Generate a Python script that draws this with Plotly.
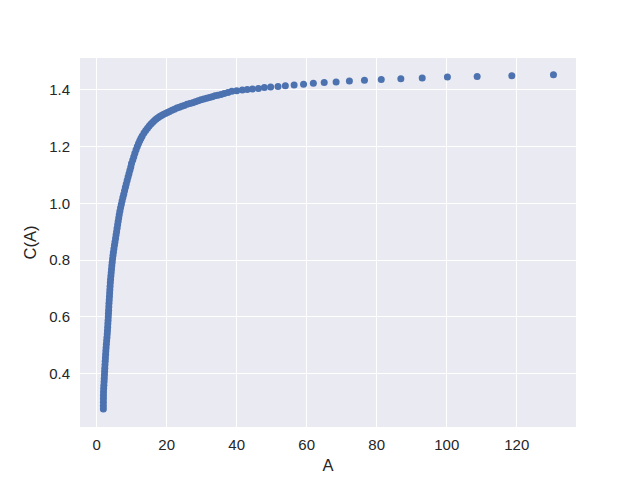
import plotly.graph_objects as go

# values (dense part read along the band, tail point by point)
a_vals = [
    1.90, 1.90, 1.91, 1.92, 1.93, 1.95, 1.99, 2.05, 2.11, 2.16,
    2.21, 2.26, 2.31, 2.37, 2.43, 2.49, 2.55, 2.61, 2.68, 2.76,
    2.84, 2.93, 3.01, 3.07, 3.13, 3.19, 3.25, 3.31, 3.36, 3.41,
    3.46, 3.51, 3.58, 3.64, 3.70, 3.76, 3.82, 3.89, 3.96, 4.05,
    4.14, 4.23, 4.32, 4.42, 4.53, 4.65, 4.78, 4.92, 5.07, 5.22,
    5.38, 5.53, 5.68, 5.83, 5.98, 6.13, 6.29, 6.44, 6.62, 6.82,
    7.03, 7.25, 7.48, 7.72, 7.96, 8.20, 8.44, 8.70, 8.96, 9.22,
    9.48, 9.74, 9.95, 10.3, 10.6, 10.9, 11.25,
    11.6, 11.95, 12.3, 12.65, 13.0, 13.5, 14.0, 14.5, 15.0, 15.5,
    16.0, 16.5, 17.0, 17.5, 18.0, 18.5, 19.0, 19.6, 20.2, 20.8,
    21.5, 22.2, 22.9, 23.6, 24.3, 25.0, 25.8, 26.6, 27.4, 28.2,
    29.0, 29.8, 30.6, 31.4, 32.2, 33.0, 33.8, 34.6, 35.5, 36.4,
    37.5,
    38.6, 40.0, 41.6, 43.0, 44.5, 46.2, 47.9, 49.7, 51.8, 53.9,
    56.4, 59.1, 61.9, 65.0, 68.4, 72.2, 76.5, 81.3, 86.9, 93.0,
    100.2, 108.7, 118.6, 130.5,
]
c_vals = [
    0.276, 0.288, 0.300, 0.312, 0.324, 0.336, 0.348, 0.360, 0.372, 0.384,
    0.396, 0.408, 0.420, 0.432, 0.444, 0.456, 0.468, 0.480, 0.492, 0.504,
    0.516, 0.528, 0.540, 0.552, 0.564, 0.576, 0.588, 0.600, 0.612, 0.624,
    0.636, 0.648, 0.660, 0.672, 0.684, 0.696, 0.708, 0.720, 0.732, 0.744,
    0.756, 0.768, 0.780, 0.792, 0.804, 0.816, 0.828, 0.840, 0.852, 0.864,
    0.876, 0.888, 0.900, 0.912, 0.924, 0.936, 0.948, 0.960, 0.972, 0.984,
    0.996, 1.008, 1.020, 1.032, 1.044, 1.056, 1.068, 1.080, 1.092, 1.104,
    1.116, 1.128, 1.140, 1.152, 1.164, 1.176, 1.188,
    1.200, 1.210, 1.220, 1.229, 1.237, 1.247, 1.256, 1.264, 1.272, 1.279,
    1.285, 1.291, 1.296, 1.301, 1.305, 1.309, 1.312, 1.316, 1.319, 1.323,
    1.327, 1.331, 1.335, 1.338, 1.341, 1.344, 1.348, 1.351, 1.354, 1.357,
    1.361, 1.364, 1.367, 1.369, 1.372, 1.375, 1.378, 1.380, 1.383, 1.386,
    1.390,
    1.394, 1.396, 1.398, 1.400, 1.402, 1.404, 1.407, 1.409, 1.411, 1.413,
    1.416, 1.419, 1.422, 1.425, 1.427, 1.430, 1.433, 1.435, 1.438, 1.441,
    1.444, 1.446, 1.449, 1.452,
]

x_ticks = [0, 20, 40, 60, 80, 100, 120]
y_ticks = [0.4, 0.6, 0.8, 1.0, 1.2, 1.4]

fig = go.Figure(go.Scatter(
    x=a_vals, y=c_vals,
    mode='markers',
    marker=dict(color='#4C72B0', size=7, line=dict(width=0)),
    showlegend=False,
))

axis_style = dict(
    showgrid=True, gridcolor='white', gridwidth=1.3,
    zeroline=False, showline=False, ticks='',
    automargin=False,
    tickfont=dict(size=15, color='#262626'),
)

# the page body adds 8px around the figure, so the figure is 8px smaller
fig.update_layout(
    width=632, height=472,
    margin=dict(l=72, r=64, t=50, b=53),
    plot_bgcolor='#EAEAF2',
    paper_bgcolor='white',
    font=dict(family='Liberation Sans, Arial, sans-serif', color='#262626'),
    xaxis=dict(
        range=[-4.77, 136.94], tickvals=x_ticks,
        ticklabelstandoff=7,
        title=dict(text='A', font=dict(size=16.5), standoff=7),
        **axis_style,
    ),
    yaxis=dict(
        range=[0.213, 1.511], tickvals=y_ticks, tickformat='.1f',
        ticklabelstandoff=9,
        title=dict(text='C(A)', font=dict(size=16.5), standoff=8),
        **axis_style,
    ),
)

fig.write_html("out.html")
